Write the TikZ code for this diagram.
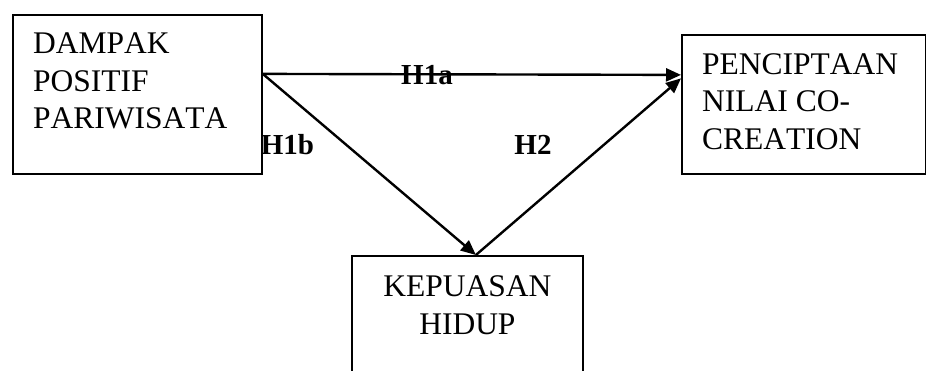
\documentclass[tikz,border=0pt]{standalone}
\usepackage{fontspec}
\setmainfont[Kerning=Off]{Liberation Serif}
\usetikzlibrary{arrows.meta,calc}
\tikzset{
        varbox/.style = {rectangle, draw=black, line width=1.8pt, inner sep=0pt},
        vartext/.style = {inner sep=0pt, font=\fontsize{31.5}{37.5}\selectfont},
        hyp/.style = {inner sep=0pt, font=\fontsize{29}{32}\selectfont\bfseries},
        path_h/.style = {-{Triangle[length=15pt,width=13pt]}, line width=2.4pt}
    }
\begin{document}
\begin{tikzpicture}[x=1pt,y=1pt]
    \useasboundingbox (0,0) rectangle (926,371);
    % boxes
    \node [varbox, anchor=north west, minimum width=249pt, minimum height=159pt] (dp) at (12,357) {};
    \node [varbox, anchor=north west, minimum width=244pt, minimum height=139pt] (pc) at (681,337) {};
    \node [varbox, anchor=north west, minimum width=231pt, minimum height=130pt] (kp) at (351,116) {};
    \node [vartext, anchor=north west, align=left] (dp_t) at ([shift={(21,-19)}]dp.north west)
        {DAMPAK\\POSITIF\\PARIWISATA};
    \node [vartext, anchor=north west, align=left] (pc_t) at ([shift={(21,-19)}]pc.north west)
        {PENCIPTAAN\\NILAI CO-\\CREATION};
    \node [vartext, anchor=north, align=center, font=\fontsize{31.5}{38.5}\selectfont] (kp_t) at ([shift={(0,-20)}]kp.north)
        {KEPUASAN\\HIDUP};
    % paths
    \coordinate (dp_out) at ([yshift=20.5pt]dp.east);
    \coordinate (kp_in) at ([xshift=8.5pt]kp.north);
    \draw [path_h] (dp_out) -- ([yshift=29.5pt]pc.west);
    \draw [path_h] (dp_out) -- (kp_in);
    \draw [path_h] (kp_in) -- ([yshift=26pt]pc.west);
    \node [hyp, anchor=base] (h1a) at (427,286) {H1a};
    \node [hyp, anchor=base] (h1b) at (287.5,216) {H1b};
    \node [hyp, anchor=base] (h2) at (533,216) {H2};
\end{tikzpicture}
\end{document}
